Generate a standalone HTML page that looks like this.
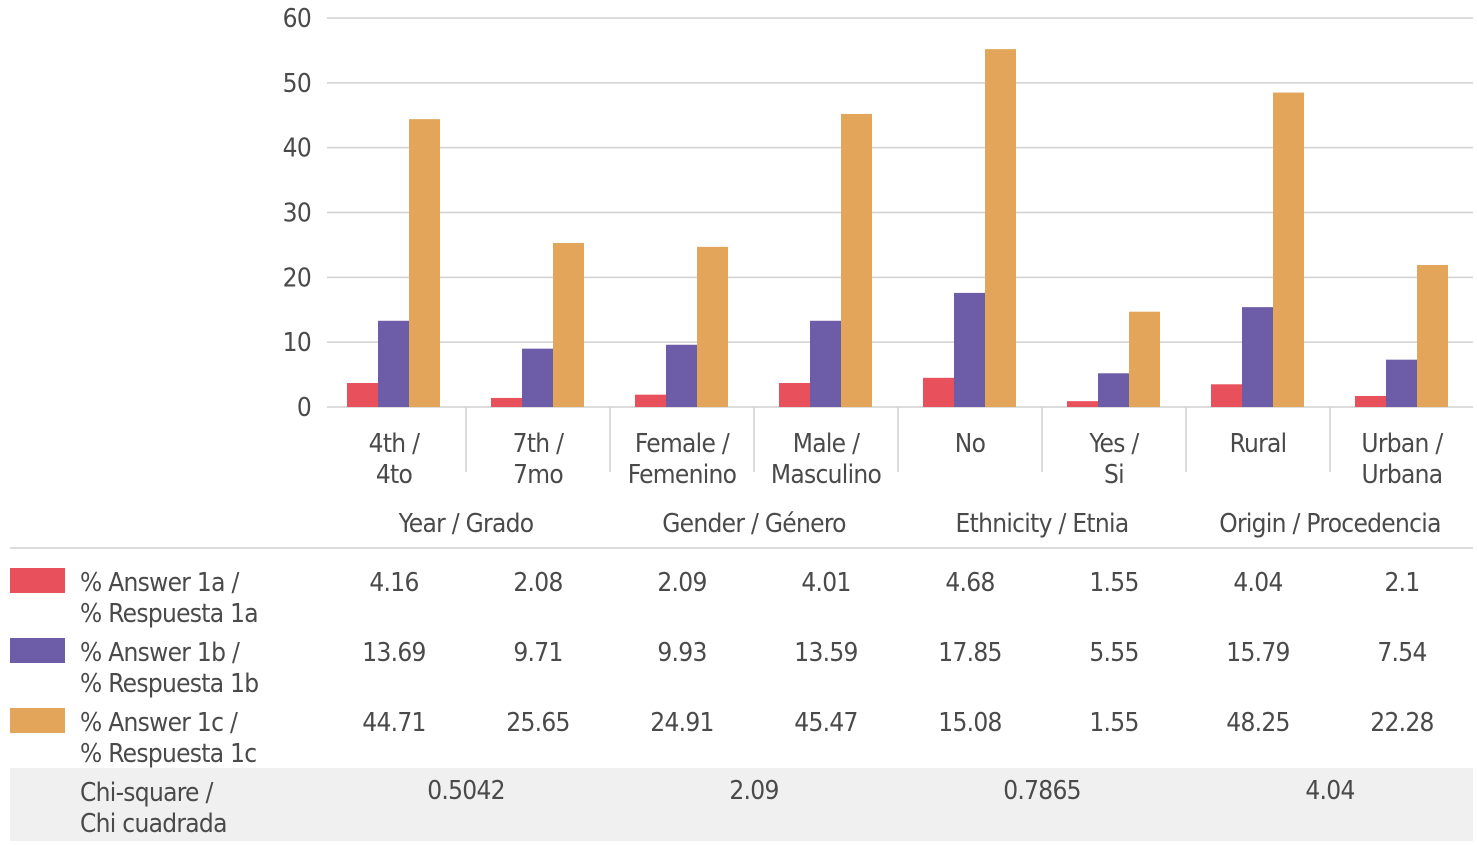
<!DOCTYPE html>
<html><head><meta charset="utf-8"><style>
body{margin:0;background:#fff;}
svg text{font-family:"Liberation Sans Narrow","DejaVu Sans Condensed","Liberation Sans",sans-serif;fill:#4a4a4a;letter-spacing:-0.7px;}
</style></head><body>
<svg id="c" width="1477" height="841" xmlns="http://www.w3.org/2000/svg"></svg>
<script>
const categories=[["4th /","4to"],["7th /","7mo"],["Female /","Femenino"],["Male /","Masculino"],["No",""],["Yes /","Si"],["Rural",""],["Urban /","Urbana"]];
const groups=["Year / Grado","Gender / Género","Ethnicity / Etnia","Origin / Procedencia"];
const series1a=[3.7,1.4,1.9,3.7,4.5,0.9,3.5,1.7];
const series1b=[13.3,9.0,9.6,13.3,17.6,5.2,15.4,7.3];
const series1c=[44.4,25.3,24.7,45.2,55.2,14.7,48.5,21.9];
const yTicks=[0,10,20,30,40,50,60];
const table1a=["4.16","2.08","2.09","4.01","4.68","1.55","4.04","2.1"];
const table1b=["13.69","9.71","9.93","13.59","17.85","5.55","15.79","7.54"];
const table1c=["44.71","25.65","24.91","45.47","15.08","1.55","48.25","22.28"];
const chi=["0.5042","2.09","0.7865","4.04"];
const seriesLabels=[["% Answer 1a /","% Respuesta 1a"],["% Answer 1b /","% Respuesta 1b"],["% Answer 1c /","% Respuesta 1c"]];
const colors=["#e8505b","#6d5ca8","#e3a55a"];

const svg=document.getElementById('c');
const NS="http://www.w3.org/2000/svg";
function el(t,a,p){const e=document.createElementNS(NS,t);for(const k in a)e.setAttribute(k,a[k]);(p||svg).appendChild(e);return e;}
const x0=322,gw=144,y0=407,y60=18;
const y=v=>y0-(v/60)*(y0-y60);
const cx=i=>x0+gw*i+gw/2;

el('rect',{x:10,y:768,width:1463,height:73,fill:'#f0f0f0'});
yTicks.forEach(t=>{
  const l=el('line',{x1:327,x2:1473,y1:y(t),y2:y(t),stroke:'#d0d0d0','stroke-width':1.5});
  
  const tx=el('text',{x:311,y:y(t)+9,'font-size':26,'text-anchor':'end'});tx.textContent=t;
  
});
for(let i=1;i<8;i++){
  const l=el('line',{x1:x0+gw*i,x2:x0+gw*i,y1:407,y2:472,stroke:'#d0d0d0','stroke-width':1.5});
  
}
el('line',{x1:10,x2:1473,y1:548,y2:548,stroke:'#d0d0d0','stroke-width':1.5});
[series1a,series1b,series1c].forEach((s,si)=>{
  s.forEach((v,i)=>{
    const r=el('rect',{x:cx(i)-47+si*31,y:y(v),width:31,height:y0-y(v),fill:colors[si]});
    
  });
});
categories.forEach((c,i)=>{
  c.forEach((ln,j)=>{if(!ln)return;const t=el('text',{x:cx(i),y:452+j*31,'font-size':26,'text-anchor':'middle'});t.textContent=ln;
  });
});
groups.forEach((g,i)=>{const t=el('text',{x:x0+gw*(2*i+1),y:532,'font-size':26,'text-anchor':'middle'});t.textContent=g;
  });
[table1a,table1b,table1c].forEach((row,ri)=>{
  const ry=568+ri*70;
  const sw=el('rect',{x:10,y:ry,width:55,height:25,fill:colors[ri]});
  
  seriesLabels[ri].forEach((ln,j)=>{const t=el('text',{x:80,y:ry+23+j*31,'font-size':26});t.textContent=ln;
    });
  row.forEach((v,i)=>{const t=el('text',{x:cx(i),y:ry+23,'font-size':26,'text-anchor':'middle'});t.textContent=v;
    });
});
["Chi-square /","Chi cuadrada"].forEach((ln,j)=>{const t=el('text',{x:80,y:801+j*31,'font-size':26});t.textContent=ln;
  });
chi.forEach((v,i)=>{const t=el('text',{x:x0+gw*(2*i+1),y:799,'font-size':26,'text-anchor':'middle'});t.textContent=v;
  });
</script>
</body></html>
